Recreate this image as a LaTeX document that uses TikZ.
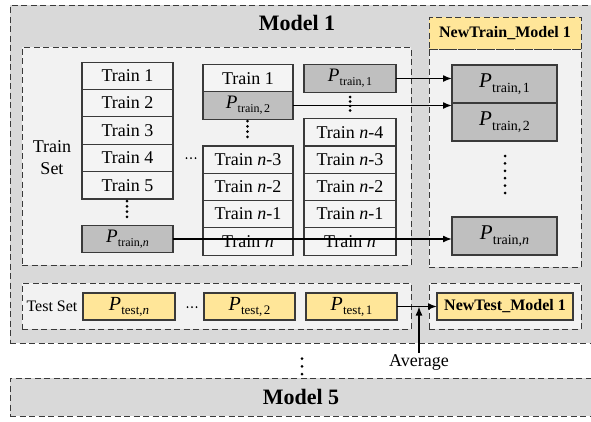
\documentclass[tikz,border=0pt]{standalone}
\usepackage{fontspec}
\setmainfont{Liberation Serif}
\usetikzlibrary{arrows.meta}
\definecolor{frameg}{HTML}{D9D9D9}
\definecolor{innerg}{HTML}{F2F2F2}
\definecolor{cellw}{HTML}{F4F4F4}
\definecolor{pgray}{HTML}{BFBFBF}
\definecolor{pyel}{HTML}{FFE699}
\definecolor{edge}{HTML}{3A3A3A}
\newcommand\fs[1]{\fontsize{#1}{#1}\selectfont}
\newcommand\PP[4]{{\fs{#1}\textit{P}}\kern0.3pt\raisebox{-#4}{\fs{#2}#3}}
\tikzset{
  frame/.style={draw=edge, line width=0.9pt, dash pattern=on 6pt off 3.5pt, inner sep=0pt, outer sep=0pt},
  cell/.style={draw=edge, line width=1.1pt, fill=cellw, minimum height=27.3pt, inner sep=0pt, outer sep=0pt, font=\fs{18}},
  pcell/.style={cell, fill=pgray},
  ycell/.style={cell, fill=pyel},
  arr/.style={-{Latex[length=9pt,width=7pt]}, line width=1.5pt},
  vdots/.style={line width=3pt, line cap=round, dash pattern=on 0pt off 5.3pt},
  hdots/.style={line width=2pt, line cap=round, dash pattern=on 0pt off 4.5pt},
}
\begin{document}
\begin{tikzpicture}[x=1pt,y=-1pt]
\useasboundingbox (0,0) rectangle (591,421);
\clip (0,0) rectangle (591,421);
% frames
\node[frame, fill=frameg, minimum width=590pt, minimum height=338pt] (m1) at (305,174) {};
\node[font=\bfseries\fs{22}] (m1t) at (297,23) {Model 1};
\node[frame, fill=innerg, minimum width=389pt, minimum height=218pt] (trs) at (216.5,156) {};
\node[frame, fill=innerg, minimum width=152pt, minimum height=218pt] (ntb) at (505,158) {};
\node[frame, fill=pyel, minimum width=152pt, minimum height=32pt, font=\bfseries\fs{16}] (nth) at (505,33) {NewTrain\_Model 1};
\node[frame, fill=innerg, minimum width=389pt, minimum height=46pt] (tes) at (216.5,306) {};
\node[frame, fill=innerg, minimum width=152pt, minimum height=46pt] (nte) at (505,306) {};
\node[frame, fill=frameg, minimum width=590pt, minimum height=38pt] (m5) at (305,397) {};
\node[font=\bfseries\fs{22}] (m5t) at (301,397) {Model 5};
% labels
\node[font=\fontsize{18}{22}\selectfont, align=center] (tsl) at (52,158) {Train\\Set};
\node[font=\fs{16}] (tel) at (52,306) {Test Set};
% column 1
\node[cell, minimum width=91pt] (a1) at (127.5,75.7) {Train 1};
\node[cell, minimum width=91pt] (a2) at (127.5,103.1) {Train 2};
\node[cell, minimum width=91pt] (a3) at (127.5,130.5) {Train 3};
\node[cell, minimum width=91pt] (a4) at (127.5,157.9) {Train 4};
\node[cell, minimum width=91pt] (a5) at (127.5,185.3) {Train 5};
\node[pcell, minimum width=91pt] (a6) at (127.5,239) {\PP{19}{12}{train,\textit{n}}{4pt}};
% column 2
\node[cell, minimum width=90pt] (b1) at (248,78.5) {Train 1};
\node[pcell, minimum width=90pt] (b2) at (248,105.5) {\PP{19}{12}{train,\kern1.5pt2}{4pt}};
\node[cell, minimum width=90pt] (b3) at (248,159.6) {Train \textit{n}-3};
\node[cell, minimum width=90pt] (b4) at (248,186.9) {Train \textit{n}-2};
\node[cell, minimum width=90pt] (b5) at (248,214.1) {Train \textit{n}-1};
\node[cell, minimum width=90pt] (b6) at (248,241.4) {Train \textit{n}};
% column 3
\node[pcell, minimum width=92pt] (c1) at (350,78.5) {\PP{19}{12}{train,\kern1.5pt1}{4pt}};
\node[cell, minimum width=92pt] (c2) at (350,132.4) {Train \textit{n}-4};
\node[cell, minimum width=92pt] (c3) at (350,159.6) {Train \textit{n}-3};
\node[cell, minimum width=92pt] (c4) at (350,186.9) {Train \textit{n}-2};
\node[cell, minimum width=92pt] (c5) at (350,214.1) {Train \textit{n}-1};
\node[cell, minimum width=92pt] (c6) at (350,241.4) {Train \textit{n}};
% new train
\node[pcell, minimum width=105pt, minimum height=38pt] (n1) at (504.5,84) {\PP{21}{14}{train,\kern1.5pt1}{4.5pt}};
\node[pcell, minimum width=105pt, minimum height=38pt] (n2) at (504.5,122) {\PP{21}{14}{train,\kern1.5pt2}{4.5pt}};
\node[pcell, minimum width=105pt, minimum height=38pt] (nn) at (504.5,236) {\PP{21}{14}{train,\textit{n}}{4.5pt}};
% test row
\node[ycell, minimum width=92pt, minimum height=27pt] (t3) at (129,306.5) {\PP{20}{13}{test,\textit{n}}{4pt}};
\node[ycell, minimum width=91pt, minimum height=27pt] (t2) at (249.5,306.5) {\PP{20}{13}{test,\kern1.5pt2}{4pt}};
\node[ycell, minimum width=91pt, minimum height=27pt] (t1) at (351.5,306.5) {\PP{20}{13}{test,\kern1.5pt1}{4pt}};
\node[ycell, minimum width=136pt, minimum height=27pt, font=\bfseries\fs{16}] (nti) at (505,306.5) {NewTest\_Model 1};
% dots
\draw[vdots] (127,201) -- (127,217.3);
\draw[vdots] (247.5,121) -- (247.5,137.3);
\draw[vdots, dash pattern=on 0pt off 4.5pt] (350,97) -- (350,111);
\draw[vdots, dash pattern=on 0pt off 7.4pt] (505,156) -- (505,193.5);
\draw[vdots, dash pattern=on 0pt off 7.8pt] (302,358.5) -- (302,375);
\draw[hdots] (186.5,158) -- (196,158);
\draw[hdots] (187.5,307) -- (197,307);
% arrows
\draw[arr] (c1.east) -- (c1.east -| n1.west);
\draw[arr] (b2.east) -- (b2.east -| n1.west);
\draw[arr] (a6.east) -- (a6.east -| nn.west);
\draw[arr] (t1.east) -- (t1.east -| nti.west);
\node[font=\fs{18}, inner sep=1pt] (avg) at (419,362) {Average};
\draw[arr] (avg.north) -- (avg.north |- t1.east);
\end{tikzpicture}
\end{document}
